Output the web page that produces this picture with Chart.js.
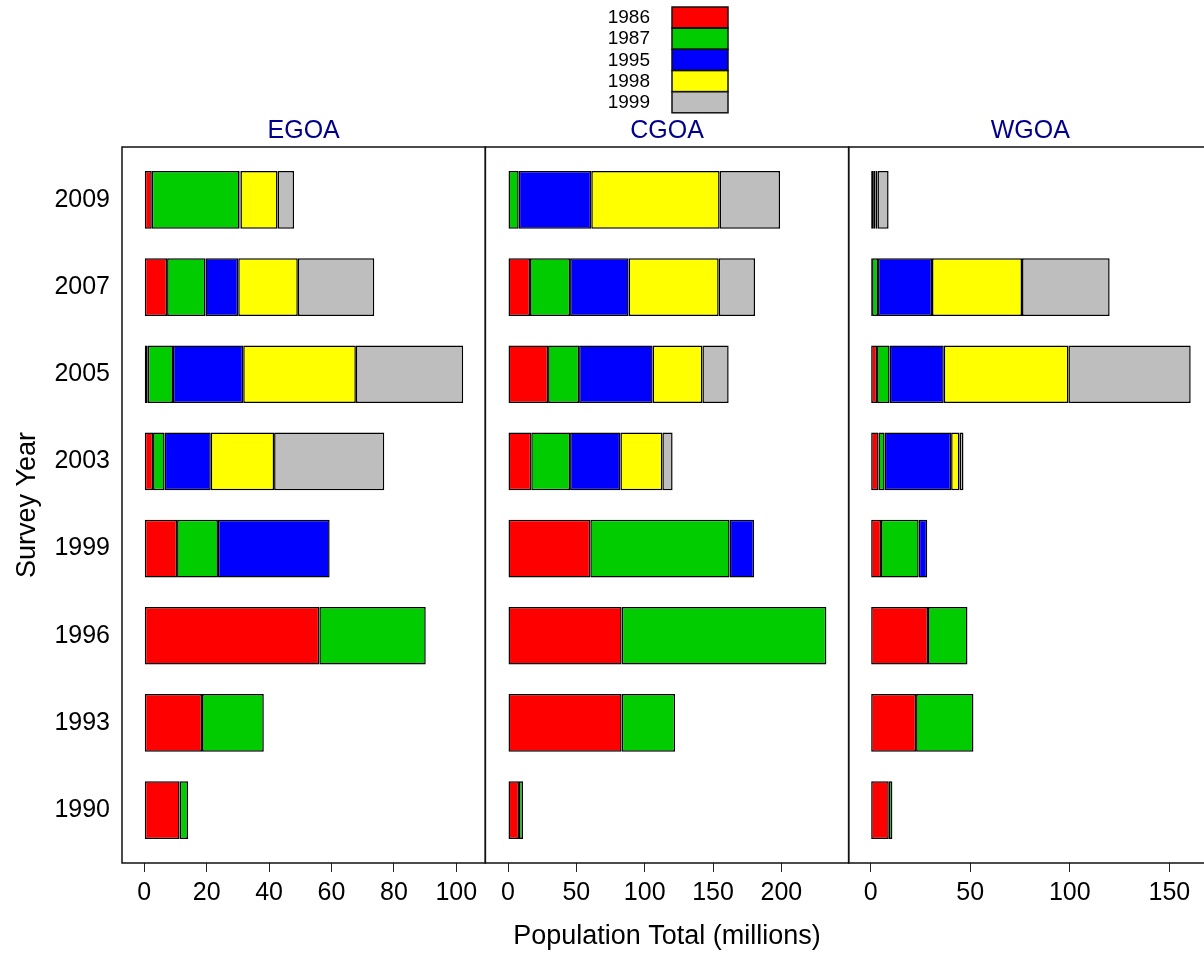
<!DOCTYPE html>
<html>
<head>
<meta charset="utf-8">
<script src="https://cdn.jsdelivr.net/npm/chart.js@4/dist/chart.umd.min.js"></script>
<style>
  body { margin: 0; background: #fff; overflow: hidden; }
  canvas { display: block; }
</style>
</head>
<body>
<canvas id="popChart" width="1212" height="956"></canvas>
<script>
// survey years, bottom to top
const surveyYears = ["1990", "1993", "1996", "1999", "2003", "2005", "2007", "2009"];
const yearClasses = ["1986", "1987", "1995", "1998", "1999"];
const classColors = ["#FF0000", "#00CC00", "#0000FF", "#FFFF00", "#BEBEBE"];
const regions = ["EGOA", "CGOA", "WGOA"];

// population totals (millions) by year class, one array per region
const egoa1986 = [11.3, 18.5, 56.1, 10.5, 2.8, 1.1, 7.3, 2.4];
const egoa1987 = [2.7, 19.8, 34.1, 13.1, 3.7, 8.1, 12.3, 28.1];
const egoa1995 = [null, null, null, 35.8, 14.8, 22.5, 10.5, 0.3];
const egoa1998 = [null, null, null, null, 20.3, 36.1, 19.1, 11.9];
const egoa1999 = [null, null, null, null, 35.3, 34.4, 24.5, 5.3];

const cgoa1986 = [8.0, 83.1, 83.1, 60.2, 17.0, 29.3, 16.1, null];
const cgoa1987 = [3.0, 39.1, 149.8, 101.9, 28.4, 22.7, 29.3, 7.8];
const cgoa1995 = [null, null, null, 17.9, 36.8, 53.8, 42.8, 53.1];
const cgoa1998 = [null, null, null, null, 30.7, 36.4, 65.9, 93.9];
const cgoa1999 = [null, null, null, null, 7.5, 19.2, 26.6, 44.2];

const wgoa1986 = [9.1, 22.8, 28.8, 5.2, 3.9, 3.2, 0.7, null];
const wgoa1987 = [1.8, 28.8, 19.8, 18.9, 3.1, 6.3, 3.0, 1.6];
const wgoa1995 = [null, null, null, 4.3, 33.4, 27.2, 27.1, 0.8];
const wgoa1998 = [null, null, null, null, 4.2, 62.6, 45.2, 1.0];
const wgoa1999 = [null, null, null, null, 2.0, 61.4, 44.0, 5.6];

// tick labels and axis ranges per panel
const egoaTicks = [0, 20, 40, 60, 80, 100];
const cgoaTicks = [0, 50, 100, 150, 200];
const wgoaTicks = [0, 50, 100, 150];
const panelTicks = [egoaTicks, cgoaTicks, wgoaTicks];
const panelMin = [-7.15, -16.6, -11.05];
const panelMax = [109.3, 249.2, 171.4];

const regionData = [
  [egoa1986, egoa1987, egoa1995, egoa1998, egoa1999],
  [cgoa1986, cgoa1987, cgoa1995, cgoa1998, cgoa1999],
  [wgoa1986, wgoa1987, wgoa1995, wgoa1998, wgoa1999],
];

Chart.defaults.font.family = "'Liberation Sans', Arial, sans-serif";
Chart.defaults.color = "#000";

const axisIds = ["xE", "xC", "xW"];

const datasets = [];
regionData.forEach((series, r) => {
  series.forEach((values, c) => {
    datasets.push({
      label: yearClasses[c],
      xAxisID: axisIds[r],
      yAxisID: "y",
      stack: "all",
      data: values.map((v, i) => ({ x: v, y: i })),
      backgroundColor: classColors[c],
      borderColor: "#000",
      borderWidth: 1.5,
      borderSkipped: false,
      categoryPercentage: 1,
      barPercentage: 0.662,
    });
  });
});

function panelAxis(r, showTitle) {
  return {
    type: "linear",
    position: "bottom",
    stack: "panels",
    stackWeight: 1,
    stacked: true,
    bounds: "data",
    min: panelMin[r],
    max: panelMax[r],
    afterBuildTicks: (s) => { s.ticks = panelTicks[r].map((v) => ({ value: v })); },
    afterFit: (s) => {
      s.height = 93;
      s.paddingLeft = 0;
      s.paddingRight = 0;
    },
    grid: { display: true, drawOnChartArea: false, drawTicks: true, tickLength: 9, color: "#222", lineWidth: 1 },
    border: { display: false },
    ticks: { padding: 6, font: { size: 25 }, maxRotation: 0, autoSkip: false },
    title: { display: showTitle, text: "Population Total (millions)", font: { size: 27 }, padding: { top: 0, bottom: 3 } },
  };
}

// frames, panel names and the legend
const panelDecor = {
  id: "panelDecor",
  afterDatasetsDraw(chart) {
    const { ctx, chartArea } = chart;
    ctx.save();
    regions.forEach((name, r) => {
      const s = chart.scales[axisIds[r]];
      ctx.strokeStyle = "#111";
      ctx.lineWidth = 1.5;
      ctx.strokeRect(s.left, chartArea.top, s.right - s.left, chartArea.bottom - chartArea.top);
      ctx.fillStyle = "#00008B";
      ctx.font = "25px 'Liberation Sans', Arial, sans-serif";
      ctx.textAlign = "center";
      ctx.textBaseline = "middle";
      ctx.fillText(name, (s.left + s.right) / 2, chartArea.top - 16);
    });

    ctx.font = "19px 'Liberation Sans', Arial, sans-serif";
    ctx.textAlign = "right";
    ctx.textBaseline = "middle";
    yearClasses.forEach((label, i) => {
      const top = 7 + i * 21.2;
      ctx.fillStyle = classColors[i];
      ctx.fillRect(672, top, 56, 21);
      ctx.strokeStyle = "#111";
      ctx.lineWidth = 1.5;
      ctx.strokeRect(672, top, 56, 21);
      ctx.fillStyle = "#000";
      ctx.fillText(label, 650, top + 11);
    });
    ctx.restore();
  },
};

new Chart(document.getElementById("popChart"), {
  type: "bar",
  data: { datasets },
  options: {
    indexAxis: "y",
    responsive: false,
    animation: false,
    layout: { padding: { top: 147, left: 0, right: 0, bottom: 0 } },
    plugins: {
      legend: { display: false },
      tooltip: { enabled: false },
    },
    scales: {
      y: {
        type: "linear",
        position: "left",
        stacked: true,
        offset: false,
        bounds: "data",
        min: -0.607,
        max: 7.607,
        afterBuildTicks: (s) => { s.ticks = surveyYears.map((_, i) => ({ value: i })); },
        afterFit: (s) => { s.width = 122; },
        grid: { display: false, offset: false, drawTicks: false, tickLength: 0 },
        border: { display: false },
        ticks: {
          padding: 12,
          font: { size: 25 },
          autoSkip: false,
          callback: (v) => surveyYears[v],
        },
        title: { display: true, text: "Survey Year", font: { size: 27 }, padding: { top: 11, bottom: 0 } },
      },
      xE: panelAxis(0, false),
      xC: panelAxis(1, true),
      xW: panelAxis(2, false),
    },
  },
  plugins: [panelDecor],
});
</script>
</body>
</html>
